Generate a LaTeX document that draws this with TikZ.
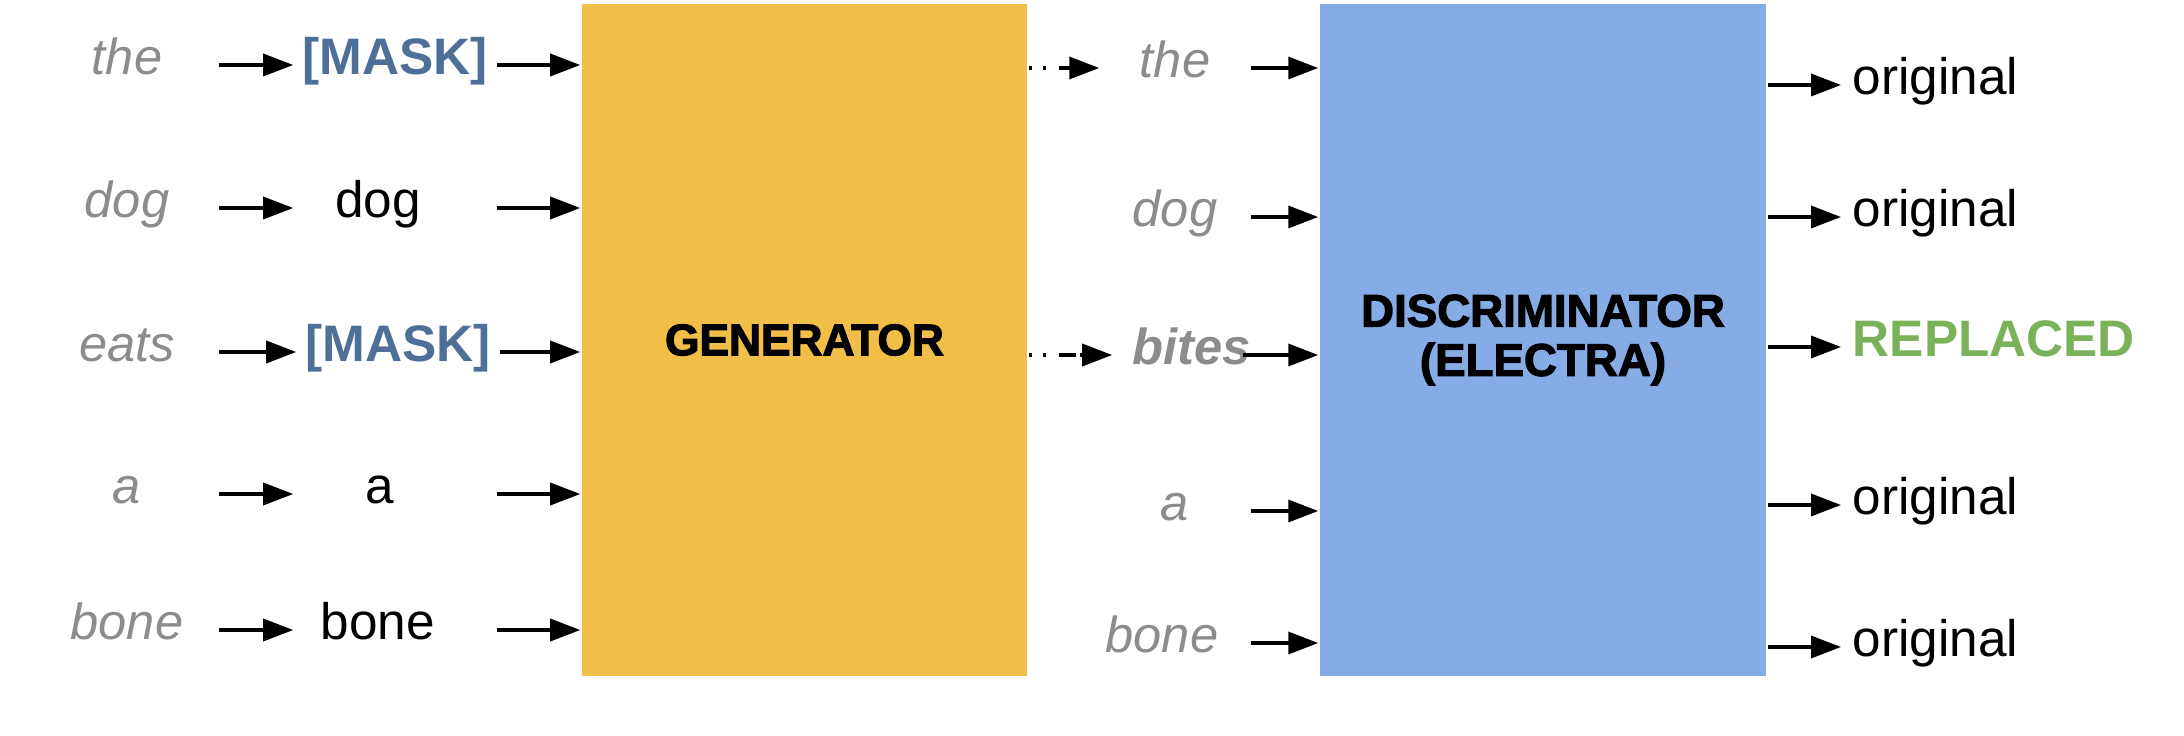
\documentclass[tikz,border=0pt]{standalone}
\usepackage{fontspec}
\setmainfont{Liberation Sans}
\newfontfamily\heavyfont[FakeBold=2.5]{Liberation Sans Bold}
\usetikzlibrary{arrows.meta}
\definecolor{genyellow}{RGB}{241,190,72}
\definecolor{discblue}{RGB}{134,172,230}
\definecolor{maskblue}{RGB}{78,112,152}
\definecolor{wordgray}{RGB}{140,140,140}
\definecolor{replgreen}{RGB}{122,178,90}

\begin{document}
\begin{tikzpicture}[>={Triangle[length=3mm,width=2.2mm]}, line width=1pt,
  every node/.style={inner sep=0pt},
  word/.style={font=\fontsize{14.4}{17}\selectfont\itshape, text=wordgray, anchor=mid},
  token/.style={font=\fontsize{14.6}{17}\selectfont, anchor=mid},
  mask/.style={token, minimum width=2cm, font=\fontsize{14.6}{17}\selectfont\bfseries, text=maskblue},
  label/.style={font=\fontsize{14.6}{17}\selectfont, anchor=mid west, inner xsep=1mm},
  box/.style={font=\fontsize{12.6}{14}\selectfont\heavyfont, minimum height=6.72cm, align=center},
  dotarrow/.style={dash pattern=on 1pt off 3pt on 1pt off 3.5pt on 5pt}]
\useasboundingbox (0,0) rectangle (21.84,7.36);
% Draw boxes
\node (gen) [box, fill=genyellow, minimum width=4.45cm] at (8.045,3.96) {GENERATOR};
\node (disc) [box, fill=discblue, minimum width=4.46cm, font=\fontsize{13}{14}\selectfont\heavyfont] at (15.43,3.96) {DISCRIMINATOR\\(ELECTRA)};
% Draw input words
\node (w1) [word, minimum width=1.8cm] at (1.27,6.71) {the};
\node (w2) [word, minimum width=1.8cm] at (1.27,5.28) {dog};
\node (w3) [word, minimum width=1.8cm] at (1.27,3.84) {eats};
\node (w4) [word, minimum width=1.8cm] at (1.27,2.42) {a};
\node (w5) [word, minimum width=1.8cm] at (1.27,1.06) {bone};
% Draw masked words
\node (m1) [mask] at (3.95,6.71) {[MASK]};
\node (m2) [token] at (3.78,5.28) {dog};
\node (m3) [mask] at (3.98,3.84) {[MASK]};
\node (m4) [token] at (3.8,2.42) {a};
\node (m5) [token] at (3.78,1.06) {bone};
% Draw sampled words
\node (r1) [word, minimum width=1.48cm] at (11.75,6.68) {the};
\node (r2) [word, minimum width=1.48cm] at (11.75,5.19) {dog};
\node (r3) [word, font=\fontsize{14.4}{17}\selectfont\bfseries\itshape] at (11.92,3.81) {bites};
\node (r4) [word, minimum width=1.48cm] at (11.75,2.25) {a};
\node (r5) [word, minimum width=1.74cm] at (11.62,0.93) {bone};
% Draw outputs
\node (o1) [label] at (18.41,6.51) {original};
\node (o2) [label] at (18.41,5.19) {original};
\node (o3) [label, font=\fontsize{14.6}{17}\selectfont\bfseries, text=replgreen] at (18.41,3.89) {REPLACED};
\node (o4) [label] at (18.41,2.31) {original};
\node (o5) [label] at (18.41,0.89) {original};
% Draw arrows
\draw[->] (w1.mid east) -- (m1.mid west);
\draw[->] (w2.mid east) -- (m1.mid west |- m2.mid west);
\draw[->] (w3.mid east) -- (m3.mid west);
\draw[->] (w4.mid east) -- (m1.mid west |- m4.mid west);
\draw[->] (w5.mid east) -- (m1.mid west |- m5.mid west);
\draw[->] (m1.mid east) -- (gen.west |- m1.mid east);
\draw[->] (m1.mid east |- m2.mid east) -- (gen.west |- m2.mid east);
\draw[->] (m3.mid east) -- (gen.west |- m3.mid east);
\draw[->] (m1.mid east |- m4.mid east) -- (gen.west |- m4.mid east);
\draw[->] (m1.mid east |- m5.mid east) -- (gen.west |- m5.mid east);
\draw[->, dotarrow] (gen.east |- r1.mid west) -- (r1.mid west);
\draw[->, dotarrow] (gen.east |- r3.mid west) -- ([xshift=-1.9mm]r3.mid west);
\draw[->] (r1.mid east) -- (disc.west |- r1.mid east);
\draw[->] (r2.mid east) -- (disc.west |- r2.mid east);
\draw[->] ([xshift=-1mm]r3.mid east) -- (disc.west |- r3.mid east);
\draw[->] (r4.mid east) -- (disc.west |- r4.mid east);
\draw[->] (r5.mid east) -- (disc.west |- r5.mid east);
\draw[->] (disc.east |- o1.mid west) -- (o1.mid west);
\draw[->] (disc.east |- o2.mid west) -- (o2.mid west);
\draw[->] (disc.east |- o3.mid west) -- (o3.mid west);
\draw[->] (disc.east |- o4.mid west) -- (o4.mid west);
\draw[->] (disc.east |- o5.mid west) -- (o5.mid west);
\end{tikzpicture}
\end{document}
